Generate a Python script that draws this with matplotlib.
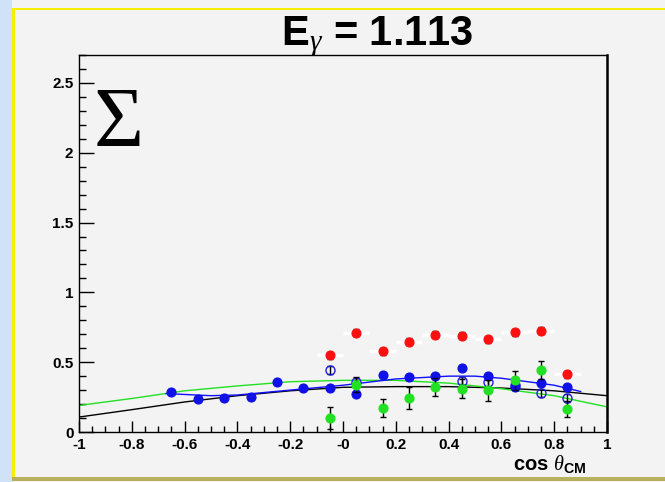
import numpy as np
import matplotlib
matplotlib.use("Agg")
import matplotlib.pyplot as plt
from matplotlib.patches import Rectangle
from matplotlib.ticker import MultipleLocator, FixedLocator, FixedFormatter

plt.rcParams['font.family'] = ['Liberation Sans', 'DejaVu Sans']
plt.rcParams['mathtext.fontset'] = 'custom'
plt.rcParams['mathtext.rm'] = 'Liberation Sans'
plt.rcParams['mathtext.it'] = 'Liberation Serif:italic'
plt.rcParams['mathtext.bf'] = 'Liberation Sans:bold'

# --- datos: asimetria de haz Sigma vs cos(theta_CM), E_gamma = 1.113 ---
x_azul = [-0.65, -0.55, -0.45, -0.35, -0.25, -0.15, -0.05, 0.05,
          0.15, 0.25, 0.35, 0.45, 0.55, 0.65, 0.75, 0.85]
sig_azul = [0.29, 0.235, 0.245, 0.25, 0.36, 0.315, 0.315, 0.27,
            0.41, 0.395, 0.40, 0.46, 0.40, 0.32, 0.35, 0.32]
err_azul = [0.02] * 16

x_abierto = [-0.05, 0.05, 0.45, 0.55, 0.65, 0.75, 0.85]
sig_abierto = [0.445, 0.36, 0.365, 0.355, 0.335, 0.28, 0.245]
err_abierto = [0.03] * 7

x_rojo = [-0.05, 0.05, 0.15, 0.25, 0.35, 0.45, 0.55, 0.65, 0.75, 0.85]
sig_rojo = [0.55, 0.71, 0.58, 0.645, 0.695, 0.688, 0.665, 0.715, 0.725, 0.415]
err_rojo = [0.025] * 10

x_verde = [-0.05, 0.05, 0.15, 0.25, 0.35, 0.45, 0.55, 0.65, 0.75, 0.85]
sig_verde = [0.10, 0.34, 0.17, 0.245, 0.32, 0.31, 0.30, 0.37, 0.445, 0.165]
err_verde = [0.08, 0.055, 0.065, 0.08, 0.065, 0.068, 0.075, 0.067, 0.067, 0.06]

# curvas de los modelos
x_curva = [-1.0, -0.8, -0.6, -0.4, -0.2, 0.0, 0.2, 0.4, 0.6, 0.8, 1.0]
curva_negra = [0.107, 0.16, 0.215, 0.26, 0.295, 0.32, 0.325, 0.325, 0.315, 0.295, 0.26]
curva_verde = [0.19, 0.24, 0.295, 0.33, 0.36, 0.37, 0.37, 0.35, 0.31, 0.26, 0.18]
x_curva_azul = [-0.67, -0.5, -0.4, -0.2, 0.0, 0.2, 0.4, 0.5, 0.6, 0.8, 0.9]
curva_azul = [0.275, 0.26, 0.265, 0.30, 0.335, 0.38, 0.40, 0.40, 0.385, 0.335, 0.29]

etiquetas_x = ['-1', '-0.8', '-0.6', '-0.4', '-0.2', '-0', '0.2', '0.4', '0.6', '0.8', '1']
etiquetas_y = ['0', '0.5', '1', '1.5', '2', '2.5']

W, H = 665, 482
fig = plt.figure(figsize=(W / 100, H / 100), dpi=100)
fig.patch.set_facecolor('#f3f3f3')

# marco de la ventana (franja azul, lineas amarilla y oliva)
fig.add_artist(Rectangle((0, 0), 12 / W, 1, transform=fig.transFigure,
                         color='#cfe2f7', lw=0, zorder=0))
fig.add_artist(Rectangle((12 / W, 2 / H), 2.5 / W, (H - 11) / H, transform=fig.transFigure,
                         color='#f5f000', lw=0, zorder=0))
fig.add_artist(Rectangle((12 / W, 1 - 10 / H), 1, 2.5 / H, transform=fig.transFigure,
                         color='#f5f000', lw=0, zorder=0))
fig.add_artist(Rectangle((12 / W, 1 / H), 1, 4 / H, transform=fig.transFigure,
                         color='#b8b05c', lw=0, zorder=0))

ax = fig.add_axes([79 / W, 50 / H, 528 / W, 377 / H])
ax.set_facecolor('#f3f3f3')
ax.set_xlim(-1, 1)
ax.set_ylim(0, 2.7)

# curvas
ax.plot(x_curva, curva_negra, color='black', lw=1.0, zorder=2)
ax.plot(x_curva, curva_verde, color='#22e022', lw=1.0, zorder=2)
ax.plot(x_curva_azul, curva_azul, color='#1010ff', lw=1.0, zorder=2)

# puntos
ax.errorbar(x_rojo, sig_rojo, xerr=0.05, fmt='none', ecolor='white', elinewidth=2.5,
            capsize=0, zorder=3)
ax.errorbar(x_rojo, sig_rojo, yerr=err_rojo, fmt='o', color='#ff1010', ms=6.3,
            ecolor='black', elinewidth=1, capsize=2, zorder=4)
ax.errorbar(x_abierto, sig_abierto, yerr=err_abierto, fmt='o', mfc='none', mec='#2020e0',
            mew=1.0, ms=6.5, ecolor='black', elinewidth=1, capsize=2, zorder=4)
ax.errorbar(x_azul, sig_azul, yerr=err_azul, fmt='o', color='#1010e8', ms=6.3,
            ecolor='black', elinewidth=1, capsize=2, zorder=5)
ax.errorbar(x_verde, sig_verde, yerr=err_verde, fmt='o', color='#22e022', ms=6.3,
            ecolor='black', elinewidth=1, capsize=2.2, zorder=6)

# ejes estilo ROOT
ax.xaxis.set_major_locator(FixedLocator(np.linspace(-1, 1, 11)))
ax.xaxis.set_major_formatter(FixedFormatter(etiquetas_x))
ax.xaxis.set_minor_locator(MultipleLocator(0.05))
ax.yaxis.set_major_locator(FixedLocator([0, 0.5, 1, 1.5, 2, 2.5]))
ax.yaxis.set_major_formatter(FixedFormatter(etiquetas_y))
ax.yaxis.set_minor_locator(MultipleLocator(0.1))
ax.tick_params(axis='x', which='major', direction='in', length=8, width=1, pad=4,
               labelsize=11)
ax.tick_params(axis='x', which='minor', direction='in', length=4, width=1)
ax.tick_params(axis='y', which='major', direction='in', length=10.5, width=1, pad=4,
               labelsize=11)
ax.tick_params(axis='y', which='minor', direction='in', length=5, width=1)
for lab in ax.get_xticklabels() + ax.get_yticklabels():
    lab.set_fontweight('bold')
for lado in ['left', 'bottom', 'top']:
    ax.spines[lado].set_linewidth(1.0)
ax.spines['right'].set_linewidth(1.8)

# textos
ax.text(0.028, 2.04, '\u03a3', fontsize=62, family='Liberation Serif', va='baseline',
        ha='left', transform=ax.get_yaxis_transform(), zorder=7)
fig.text(377 / W, 1 - 45 / H, r'E$_{\gamma}$ = 1.113', fontsize=30, fontweight='bold',
         ha='center', va='baseline')
fig.text(586 / W, 1 - 470 / H, r'cos $\theta_{\mathbf{CM}}$', fontsize=14.5, fontweight='bold',
         ha='right', va='baseline')

fig.savefig('out.png', dpi=100, facecolor=fig.get_facecolor())
